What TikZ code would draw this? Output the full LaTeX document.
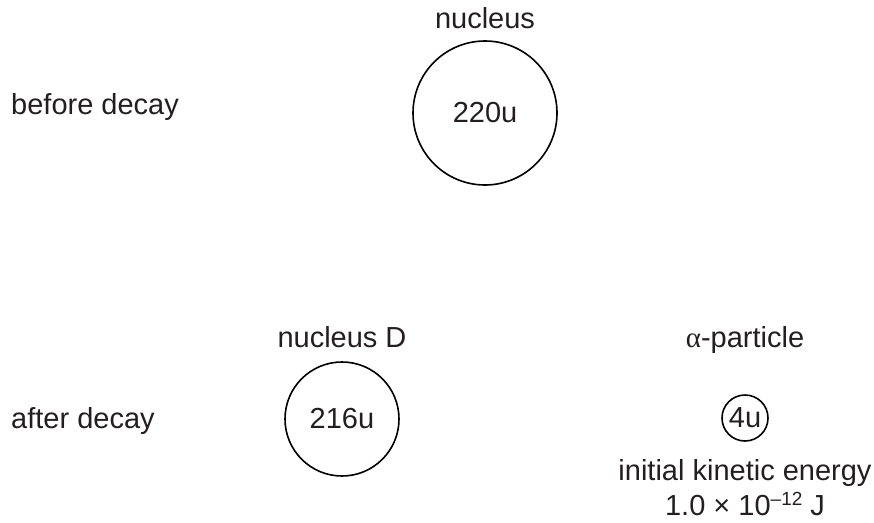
\documentclass[tikz,border=0pt]{standalone}
\usepackage{fontspec}
\setmainfont{Liberation Sans}
\newfontfamily\greekfont{Liberation Serif}
\usepackage{tikz}
\usetikzlibrary{calc,positioning}

\definecolor{txtgray}{RGB}{35,31,32}

\begin{document}
\begin{tikzpicture}[x=1pt,y=-1pt,
  every node/.style={font=\fontsize{29}{35}\selectfont,text=txtgray,inner sep=0pt},
  nucl/.style={draw=black,circle,line width=1.6pt},
  lbl/.style={anchor=base}]
%
  \useasboundingbox (0,0) rectangle (874,522);
%
  \node[nucl,minimum size=144pt] (parent)   at (485,113) {220u};
  \node[nucl,minimum size=114pt] (daughter) at (342,419) {216u};
  \node[nucl,minimum size=46pt]  (alpha)    at (745,418) {4u};
%
  \node[lbl] (parentlbl)   at ($(parent.north)+(0,-12)$)   {nucleus};
  \node[lbl] (daughterlbl) at ($(daughter.north)+(0,-14)$) {nucleus D};
  \node[lbl] (alphalbl)    at ($(alpha.north)+(0,-47)$)
        {{\greekfont α}-particle};
%
  \node[anchor=base west] (before) at (11,114) {before decay};
  \node[anchor=base west] (after)  at (11,428) {after decay};
%
  \node[lbl] (kinetic) at ($(alpha.south)+(0,39)$) {initial kinetic energy};
  \node[lbl] (energy)  at ($(kinetic.base)+(0,35)$)
        {1.0 × 10\raisebox{10pt}{\fontsize{19}{20}\selectfont –12} J};
\end{tikzpicture}
\end{document}
